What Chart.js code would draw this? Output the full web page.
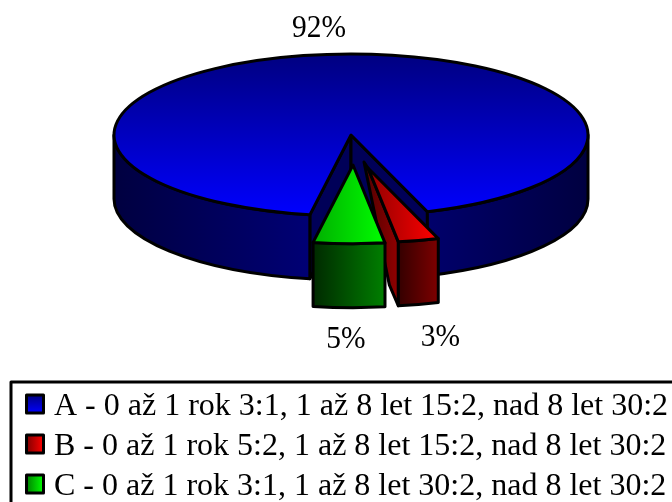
<!DOCTYPE html>
<html>
<head>
<meta charset="utf-8">
<style>html,body{margin:0;padding:0;background:#fff;overflow:hidden}canvas{display:block}</style>
<script src="https://cdn.jsdelivr.net/npm/chart.js@4/dist/chart.umd.js"></script>
</head>
<body>
<canvas id="c" width="672" height="502"></canvas>
<script>
// Share of each resuscitation-ratio option
const categories = [
  'A - 0 až 1 rok 3:1, 1 až 8 let 15:2, nad 8 let 30:2',
  'B - 0 až 1 rok 5:2, 1 až 8 let 15:2, nad 8 let 30:2',
  'C - 0 až 1 rok 3:1, 1 až 8 let 30:2, nad 8 let 30:2'
];
const percentages = [92, 3, 5];

const FONT = '"Liberation Serif", "Times New Roman", serif';
const LEGEND_SIZE = 32;
const LABEL_SIZE = 31;
const LABEL_SQUEEZE = 0.95;  // percent labels are set slightly condensed
const STROKE = 3;
const RADIUS = 237;
const TILT = 0.342;          // vertical squash of the disc
const DEPTH = 64;            // height of the disc wall
const FIRST_ANGLE = 190;

// Where each slice sits on the page: disc centre and relative size of exploded slices
const sliceCentre = [[351, 135], [368, 168], [353, 165]];
const sliceScale = [1, 0.92, 0.97];
const labelAnchor = [[319, 37], [440.5, 346], [346, 348]];

const TAU = Math.PI * 2;

function axialGradient(ctx, x0, y0, x1, y1, stops) {
  const g = ctx.createLinearGradient(x0, y0, x1, y1);
  stops.forEach((c, i) => g.addColorStop(i / (stops.length - 1), c));
  return g;
}

// Top-face fills, expressed in the arc's own unprojected coordinates
function topFill(c) {
  const chart = c.chart, area = chart.chartArea;
  if (!area) return '#000';
  const mx = (area.left + area.right) / 2, my = (area.top + area.bottom) / 2;
  const ctx = chart.ctx;
  if (c.dataIndex === 0) return axialGradient(ctx, 0, my - RADIUS, 0, my + RADIUS, ['#000080', '#0000ff']);
  if (c.dataIndex === 1) return axialGradient(ctx, mx, 0, mx + 76, 0, ['#900000', '#ff0000']);
  return axialGradient(ctx, mx - 40, 0, mx + 34, 0, ['#00b000', '#00ff00']);
}

function rimFill(ctx, i, cx) {
  if (i === 0) return axialGradient(ctx, cx - RADIUS, 0, cx + RADIUS, 0, ['#000040', '#000080', '#000040']);
  if (i === 1) return axialGradient(ctx, 396, 0, 440, 0, ['#300000', '#800000']);
  return axialGradient(ctx, 312, 0, 386, 0, ['#002800', '#008000']);
}

function outline(ctx, fill) {
  ctx.fillStyle = fill;
  ctx.fill();
  ctx.strokeStyle = '#000';
  ctx.lineWidth = STROKE;
  ctx.lineJoin = 'round';
  ctx.stroke();
}

function drawSlice(ctx, arc, i, area) {
  const [cx, cy] = sliceCentre[i];
  const s = sliceScale[i];
  const rx = arc.outerRadius * s, ry = rx * TILT;
  const a0 = arc.startAngle, a1 = arc.endAngle;
  const px = a => cx + rx * Math.cos(a), py = a => cy + ry * Math.sin(a);

  // Walls along the radial cuts, where they face the viewer
  const wall = a => {
    ctx.beginPath();
    if (i === 0) {
      ctx.moveTo(cx, cy);
      ctx.lineTo(px(a), py(a));
      ctx.lineTo(px(a), py(a) + DEPTH);
      ctx.lineTo(cx, cy + DEPTH);
      ctx.closePath();
      outline(ctx, '#000058');
    } else {
      ctx.moveTo(cx - 4, cy - 6);
      ctx.lineTo(cx, cy);
      ctx.lineTo(px(a), py(a));
      ctx.lineTo(px(a), py(a) + DEPTH);
      ctx.lineTo(px(a) - 9, py(a) + 43);
      ctx.closePath();
      outline(ctx, axialGradient(ctx, cx - 4, 0, px(a), 0, ['#500000', '#900000']));
    }
  };
  if (Math.cos(a0) < 0) wall(a0);
  if (Math.cos(a1) > 0) wall(a1);

  // Outer rim on the front half of the disc
  [[0, Math.PI], [TAU, TAU + Math.PI]].forEach(([f0, f1]) => {
    const t0 = Math.max(a0, f0), t1 = Math.min(a1, f1);
    if (t1 <= t0) return;
    ctx.beginPath();
    ctx.ellipse(cx, cy, rx, ry, 0, t0, t1, false);
    ctx.ellipse(cx, cy + DEPTH, rx, ry, 0, t1, t0, true);
    ctx.closePath();
    outline(ctx, rimFill(ctx, i, cx));
  });

  // Top face: the library's arc, projected onto the tilted disc
  ctx.save();
  ctx.translate(cx, cy);
  ctx.scale(s, s * TILT);
  ctx.translate(-arc.x, -arc.y);
  arc.draw(ctx, area);
  ctx.restore();

  ctx.beginPath();
  ctx.moveTo(cx, cy);
  ctx.ellipse(cx, cy, rx, ry, 0, a0, a1, false);
  ctx.closePath();
  ctx.strokeStyle = '#000';
  ctx.lineWidth = STROKE;
  ctx.lineJoin = 'round';
  ctx.stroke();
}

const pie3d = {
  id: 'pie3d',
  beforeDatasetDraw(chart, args) {
    const ctx = chart.ctx;
    args.meta.data.forEach((arc, i) => drawSlice(ctx, arc, i, chart.chartArea));
    return false;
  },
  afterDraw(chart) {
    const ctx = chart.ctx;

    // Percent labels
    ctx.save();
    ctx.font = LABEL_SIZE + 'px ' + FONT;
    ctx.fillStyle = '#000';
    ctx.textAlign = 'center';
    ctx.textBaseline = 'alphabetic';
    percentages.forEach((v, i) => {
      const text = v + '%';
      ctx.fillText(text, labelAnchor[i][0], labelAnchor[i][1], ctx.measureText(text).width * LABEL_SQUEEZE);
    });

    // Legend frame, running off the page at the right and bottom
    ctx.strokeStyle = '#000';
    ctx.lineWidth = STROKE;
    ctx.strokeRect(11, 382, 720, 180);

    // Legend swatches beside the library's legend text
    const fills = [
      (x, y) => axialGradient(ctx, 0, y, 0, y + 18, ['#000080', '#0000ff']),
      (x, y) => axialGradient(ctx, x, 0, x + 17, 0, ['#800000', '#ff0000']),
      (x, y) => axialGradient(ctx, x, 0, x + 17, 0, ['#008000', '#00ff00'])
    ];
    chart.legend.legendHitBoxes.forEach((hit, i) => {
      const y = hit.top + hit.height / 2 - 11.5;
      ctx.fillStyle = fills[i](26.5, y);
      ctx.fillRect(26.5, y, 17, 18);
      ctx.strokeStyle = '#000';
      ctx.lineWidth = STROKE;
      ctx.strokeRect(26.5, y, 17, 18);
    });
    ctx.restore();
  }
};

new Chart(document.getElementById('c'), {
  type: 'pie',
  data: {
    labels: categories,
    datasets: [{
      data: percentages,
      rotation: FIRST_ANGLE,
      radius: RADIUS,
      clip: false,
      borderWidth: 0,
      backgroundColor: topFill
    }]
  },
  options: {
    responsive: false,
    animation: false,
    layout: { padding: { left: 18, bottom: -10.5 } },
    plugins: {
      tooltip: { enabled: false },
      legend: {
        position: 'bottom',
        align: 'start',
        onClick: null,
        labels: {
          color: '#000',
          font: { family: FONT, size: LEGEND_SIZE },
          boxWidth: 12,
          boxHeight: 12,
          padding: 8,
          generateLabels: () => categories.map((text, index) => ({
            text, index,
            fillStyle: 'rgba(0,0,0,0)',
            strokeStyle: 'rgba(0,0,0,0)',
            lineWidth: 0
          }))
        }
      }
    }
  },
  plugins: [pie3d]
});
</script>
</body>
</html>
